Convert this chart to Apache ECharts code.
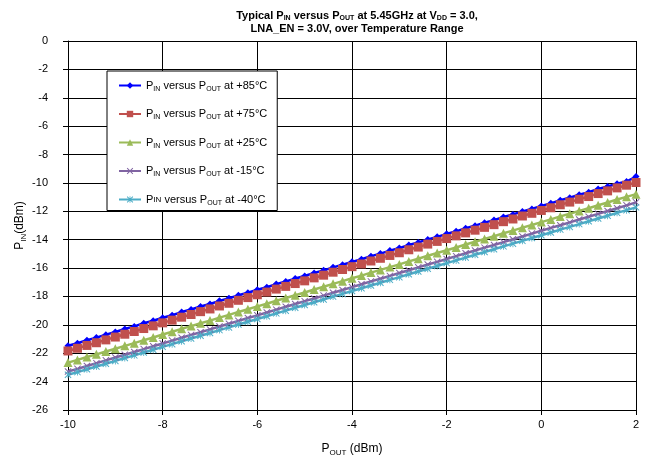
<!DOCTYPE html>
<html>
<head>
<meta charset="utf-8">
<script src="https://cdn.jsdelivr.net/npm/echarts@6/dist/echarts.min.js"></script>
<style>html,body{margin:0;padding:0;background:#fff}#c{width:652px;height:462px}</style>
</head>
<body>
<div id="c"></div>
<script>
const pout = [-10,-9.8,-9.6,-9.4,-9.2,-9,-8.8,-8.6,-8.4,-8.2,-8,-7.8,-7.6,-7.4,-7.2,-7,-6.8,-6.6,-6.4,-6.2,-6,-5.8,-5.6,-5.4,-5.2,-5,-4.8,-4.6,-4.4,-4.2,-4,-3.8,-3.6,-3.4,-3.2,-3,-2.8,-2.6,-2.4,-2.2,-2,-1.8,-1.6,-1.4,-1.2,-1,-0.8,-0.6,-0.4,-0.2,0,0.2,0.4,0.6,0.8,1,1.2,1.4,1.6,1.8,2];
const pin85 = [-21.47,-21.30,-21.08,-20.90,-20.69,-20.50,-20.29,-20.11,-19.89,-19.71,-19.50,-19.32,-19.10,-18.92,-18.71,-18.53,-18.31,-18.13,-17.92,-17.74,-17.53,-17.35,-17.13,-16.95,-16.74,-16.56,-16.34,-16.16,-15.95,-15.77,-15.56,-15.38,-15.16,-14.98,-14.77,-14.59,-14.37,-14.19,-13.98,-13.80,-13.59,-13.41,-13.19,-13.01,-12.80,-12.62,-12.40,-12.22,-12.01,-11.83,-11.62,-11.44,-11.22,-11.04,-10.83,-10.65,-10.43,-10.25,-10.06,-9.90,-9.55];
const pin75 = [-21.84,-21.65,-21.45,-21.26,-21.06,-20.86,-20.66,-20.47,-20.26,-20.07,-19.86,-19.67,-19.46,-19.27,-19.07,-18.88,-18.67,-18.48,-18.27,-18.08,-17.88,-17.69,-17.48,-17.29,-17.09,-16.90,-16.69,-16.50,-16.29,-16.10,-15.90,-15.71,-15.50,-15.31,-15.11,-14.92,-14.71,-14.52,-14.31,-14.12,-13.92,-13.73,-13.52,-13.33,-13.13,-12.94,-12.73,-12.54,-12.33,-12.14,-11.94,-11.75,-11.54,-11.35,-11.15,-10.96,-10.75,-10.56,-10.35,-10.16,-9.97];
const pin25 = [-22.66,-22.47,-22.27,-22.08,-21.88,-21.68,-21.48,-21.29,-21.08,-20.89,-20.68,-20.49,-20.28,-20.09,-19.89,-19.70,-19.49,-19.30,-19.09,-18.90,-18.70,-18.51,-18.30,-18.11,-17.91,-17.72,-17.51,-17.32,-17.11,-16.92,-16.72,-16.53,-16.32,-16.13,-15.93,-15.74,-15.53,-15.34,-15.13,-14.94,-14.74,-14.55,-14.34,-14.15,-13.95,-13.76,-13.55,-13.36,-13.15,-12.96,-12.76,-12.57,-12.36,-12.17,-11.97,-11.78,-11.57,-11.38,-11.17,-10.98,-10.79];
const pinm15 = [-23.29,-23.10,-22.90,-22.70,-22.50,-22.30,-22.11,-21.91,-21.71,-21.51,-21.31,-21.11,-20.91,-20.71,-20.52,-20.32,-20.12,-19.92,-19.72,-19.52,-19.33,-19.13,-18.93,-18.73,-18.53,-18.33,-18.14,-17.94,-17.74,-17.54,-17.34,-17.14,-16.94,-16.75,-16.55,-16.35,-16.15,-15.95,-15.75,-15.56,-15.36,-15.16,-14.96,-14.76,-14.56,-14.37,-14.17,-13.97,-13.77,-13.57,-13.37,-13.17,-12.98,-12.78,-12.58,-12.38,-12.18,-11.98,-11.78,-11.58,-11.37];
const pinm40 = [-23.52,-23.33,-23.13,-22.93,-22.74,-22.54,-22.34,-22.15,-21.95,-21.75,-21.55,-21.36,-21.16,-20.96,-20.77,-20.57,-20.37,-20.18,-19.98,-19.78,-19.59,-19.39,-19.19,-19.00,-18.80,-18.60,-18.41,-18.21,-18.01,-17.82,-17.62,-17.42,-17.23,-17.03,-16.83,-16.64,-16.44,-16.24,-16.05,-15.85,-15.65,-15.46,-15.26,-15.06,-14.87,-14.67,-14.47,-14.28,-14.08,-13.88,-13.69,-13.49,-13.29,-13.10,-12.90,-12.70,-12.51,-12.31,-12.11,-11.92,-11.72];

const seriesNames = ['+85°C','+75°C','+25°C','-15°C','-40°C'];
const seriesData = [pin85, pin75, pin25, pinm15, pinm40];
const colors = ['#0000FF','#C0504D','#9BBB59','#8064A2','#4BACC6'];
const symbols = ['diamond','rect','triangle',
  'path://M0,1L1,0L5,4L9,0L10,1L6,5L10,9L9,10L5,6L1,10L0,9L4,5Z',
  'path://M0,1L1,0L5,4L9,0L10,1L6,5L10,9L9,10L5,6L1,10L0,9L4,5Z M4.4,0L5.6,0L5.6,10L4.4,10Z'];
const symbolSizes = [7,9,9,7,7];

const FONT = 'Liberation Sans, Arial, sans-serif';
const chart = echarts.init(document.getElementById('c'));

const series = seriesNames.map((n,k)=>({
  name: n,
  type: 'line',
  data: pout.map((x,i)=>[x, seriesData[k][i]]),
  symbol: symbols[k],
  symbolSize: symbolSizes[k],
  showAllSymbol: true,
  lineStyle: {color: colors[k], width: 2.5},
  itemStyle: {color: colors[k]},
  animation: false
}));

chart.setOption({
  animation: false,
  title: {
    text: '{b|Typical P}{s|IN}{b| versus P}{s|OUT}{b| at 5.45GHz at V}{s|DD}{b| = 3.0,}\n{b|LNA_EN = 3.0V, over Temperature Range}',
    left: 352, top: 4, textAlign: 'center',
    textStyle: {
      rich: {
        b: {fontFamily: FONT, fontWeight: 'bold', fontSize: 11, color: '#000', lineHeight: 13},
        s: {fontFamily: FONT, fontWeight: 'bold', fontSize: 7, color: '#000', lineHeight: 13, verticalAlign: 'bottom', padding: [6,0,0,0]}
      }
    }
  },
  legend: {
    orient: 'vertical', left: 107, top: 71,
    width: 170,
    padding: [9, 10, 4, 11],
    itemGap: 16,
    itemWidth: 22, itemHeight: 8,
    backgroundColor: '#fff',
    borderColor: '#000', borderWidth: 1,
    data: seriesNames,
    formatter: function(name){
      if (name === '-40°C') return '{n|P}{t|IN}{n| versus P}{s|OUT}{n| at ' + name + '}';
      return '{n|P}{s|IN}{n| versus P}{s|OUT}{n| at ' + name + '}';
    },
    textStyle: {
      rich: {
        n: {fontFamily: FONT, fontSize: 11, color: '#000', lineHeight: 14},
        s: {fontFamily: FONT, fontSize: 7, color: '#000', lineHeight: 14, verticalAlign: 'bottom', padding: [4,0,0,0]},
        t: {fontFamily: FONT, fontSize: 8, color: '#000', lineHeight: 14}
      }
    }
  },
  grid: {left: 68, top: 41, width: 568, height: 371, containLabel: false},
  xAxis: {
    type: 'value', min: -10, max: 2, interval: 2,
    name: '{n|P}{s|OUT}{n| (dBm)}', nameLocation: 'middle', nameGap: 31,
    nameTextStyle: {
      rich: {
        n: {fontFamily: FONT, fontSize: 12, color: '#000', lineHeight: 16},
        s: {fontFamily: FONT, fontSize: 8, color: '#000', lineHeight: 16, verticalAlign: 'bottom', padding: [6,0,0,0]}
      }
    },
    axisLine: {show: true, onZero: false, lineStyle: {color: '#000', width: 1}},
    axisTick: {show: true, inside: false, length: 5, lineStyle: {color: '#000'}},
    axisLabel: {fontFamily: FONT, fontSize: 11, color: '#000', margin: 9},
    splitLine: {show: true, lineStyle: {color: '#000', width: 1}}
  },
  yAxis: {
    type: 'value', min: -26, max: 0, interval: 2,
    name: '{n|P}{s|IN}{n|(dBm)}', nameLocation: 'middle', nameGap: 40, nameRotate: 90,
    nameMoveOverlap: false,
    nameTextStyle: {
      rich: {
        n: {fontFamily: FONT, fontSize: 12, color: '#000', lineHeight: 16},
        s: {fontFamily: FONT, fontSize: 8, color: '#000', lineHeight: 16, verticalAlign: 'bottom', padding: [6,0,0,0]}
      }
    },
    axisLine: {show: true, onZero: false, lineStyle: {color: '#000', width: 1}},
    axisTick: {show: true, inside: false, length: 5, lineStyle: {color: '#000'}},
    axisLabel: {fontFamily: FONT, fontSize: 11, color: '#000', margin: 20},
    splitLine: {show: true, lineStyle: {color: '#000', width: 1}}
  },
  series: series
});
</script>
</body>
</html>
